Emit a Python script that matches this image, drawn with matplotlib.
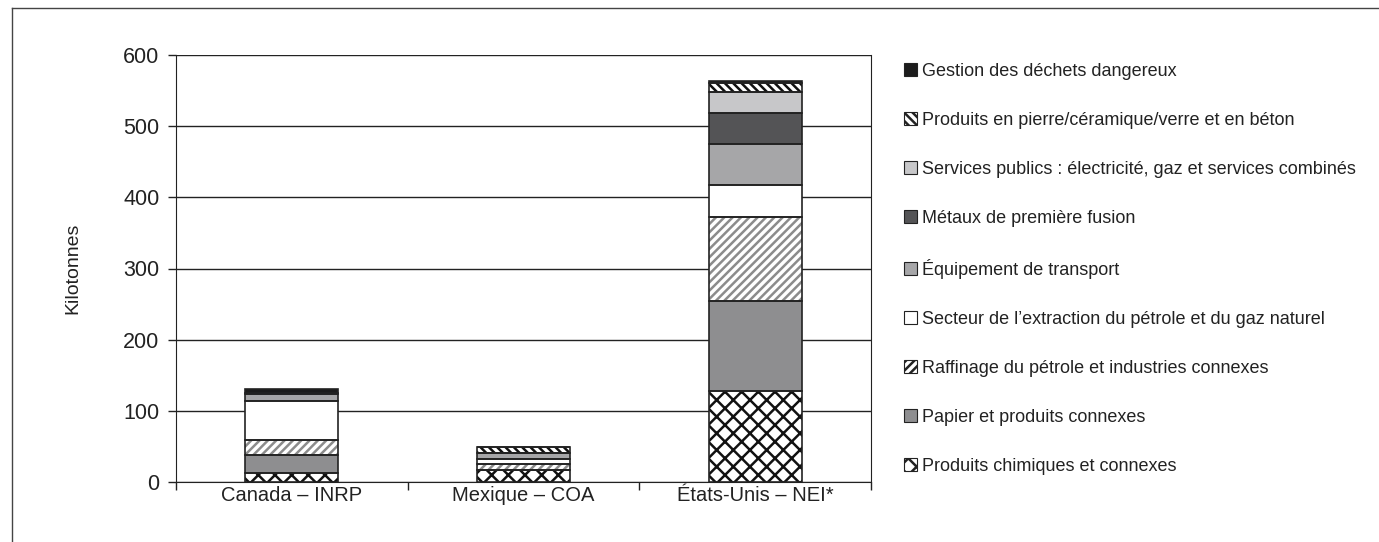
import matplotlib
matplotlib.use("Agg")
import matplotlib.pyplot as plt
from matplotlib.patches import Patch
from matplotlib.lines import Line2D
import numpy as np

plt.rcParams['font.family'] = ['Liberation Sans', 'DejaVu Sans']
plt.rcParams['hatch.linewidth'] = 1.8

countries = ["Canada – INRP", "Mexique – COA", "États-Unis – NEI*"]

# Sector names, stacked from bottom to top
sectors = [
    "Produits chimiques et connexes",
    "Papier et produits connexes",
    "Raffinage du pétrole et industries connexes",
    "Secteur de l’extraction du pétrole et du gaz naturel",
    "Équipement de transport",
    "Métaux de première fusion",
    "Services publics : électricité, gaz et services combinés",
    "Produits en pierre/céramique/verre et en béton",
    "Gestion des déchets dangereux",
]

# Emissions in kilotonnes per sector: [Canada, Mexique, États-Unis]
chimiques = [12, 17, 128]
papier = [26, 0, 126]
raffinage = [21, 8, 119]
extraction = [55, 7, 44]
transport = [9, 9, 58]
metaux = [2, 0, 43]
services = [0, 0, 30]
pierre = [0, 8, 13]
dechets = [6, 0, 3]

values = [chimiques, papier, raffinage, extraction, transport,
          metaux, services, pierre, dechets]

yticks = [0, 100, 200, 300, 400, 500, 600]

# fill colour, hatch, hatch colour
styles = [
    ("white", "xx", "#111111"),
    ("#8e8e90", "", "#8e8e90"),
    ("white", "////", "#8c8c8c"),
    ("white", "", "white"),
    ("#a6a6a8", "", "#a6a6a8"),
    ("#545456", "", "#545456"),
    ("#c7c7c9", "", "#c7c7c9"),
    ("white", "\\\\\\\\", "#111111"),
    ("#1c1c1c", "", "#1c1c1c"),
]

fig = plt.figure(figsize=(13.79, 5.42), dpi=100)
ax = fig.add_axes([176 / 1379, 1 - 482 / 542, (871 - 176) / 1379, (482 - 55) / 542])

x = np.arange(len(countries))
width = 0.40
bottom = np.zeros(len(countries))
for vals, (fc, hatch, hc) in zip(values, styles):
    vals = np.array(vals, dtype=float)
    ax.bar(x, vals, width, bottom=bottom, facecolor=fc, edgecolor=hc,
           hatch=hatch, linewidth=0, zorder=3)
    ax.bar(x, vals, width, bottom=bottom, facecolor="none",
           edgecolor="#222222", linewidth=1.2, zorder=4)
    bottom += vals

ax.set_xlim(-0.5, 2.5)
ax.set_ylim(0, 600)
ax.set_yticks(yticks)
ax.set_yticklabels([str(t) for t in yticks], fontsize=15.5, color="#222222")
ax.yaxis.grid(True, color="#222222", linewidth=1.0, zorder=0)
ax.set_axisbelow(True)

# category labels centred, tick marks at category boundaries
ax.set_xticks([-0.5, 0.5, 1.5, 2.5])
ax.set_xticklabels([])
ax.set_xticks(x, minor=True)
ax.set_xticklabels(countries, minor=True, fontsize=14.5, color="#222222")
ax.tick_params(axis="x", which="minor", length=0, pad=3)
ax.tick_params(axis="x", which="major", length=6, width=1, color="#222222", direction="out")
ax.tick_params(axis="y", length=6, width=1, color="#222222", direction="out", pad=6)

ax.spines["top"].set_visible(False)
for side in ["right", "left", "bottom"]:
    ax.spines[side].set_color("#222222")

ax.set_ylabel("Kilotonnes", fontsize=14, color="#222222", labelpad=30)

handles = [Patch(facecolor=fc, edgecolor="#222222", hatch=h, linewidth=0.8)
           for fc, h, hc in styles]
# legend lists the top of the stack first
leg = fig.legend(handles[::-1], sectors[::-1], loc="upper left",
                 bbox_to_anchor=(904 / 1379, 1 - 63 / 542), frameon=False,
                 fontsize=13, handlelength=0.72, handleheight=0.72,
                 handletextpad=0.3, labelspacing=1.77, borderaxespad=0,
                 borderpad=0)
for t in leg.get_texts():
    t.set_color("#222222")

# outer frame (top and left edges)
fig.add_artist(Line2D([12 / 1379, 1.0], [1 - 8 / 542, 1 - 8 / 542],
                      color="#444444", linewidth=1.0, transform=fig.transFigure))
fig.add_artist(Line2D([12 / 1379, 12 / 1379], [0.0, 1 - 8 / 542],
                      color="#444444", linewidth=1.0, transform=fig.transFigure))

fig.savefig("out.png", dpi=100)
